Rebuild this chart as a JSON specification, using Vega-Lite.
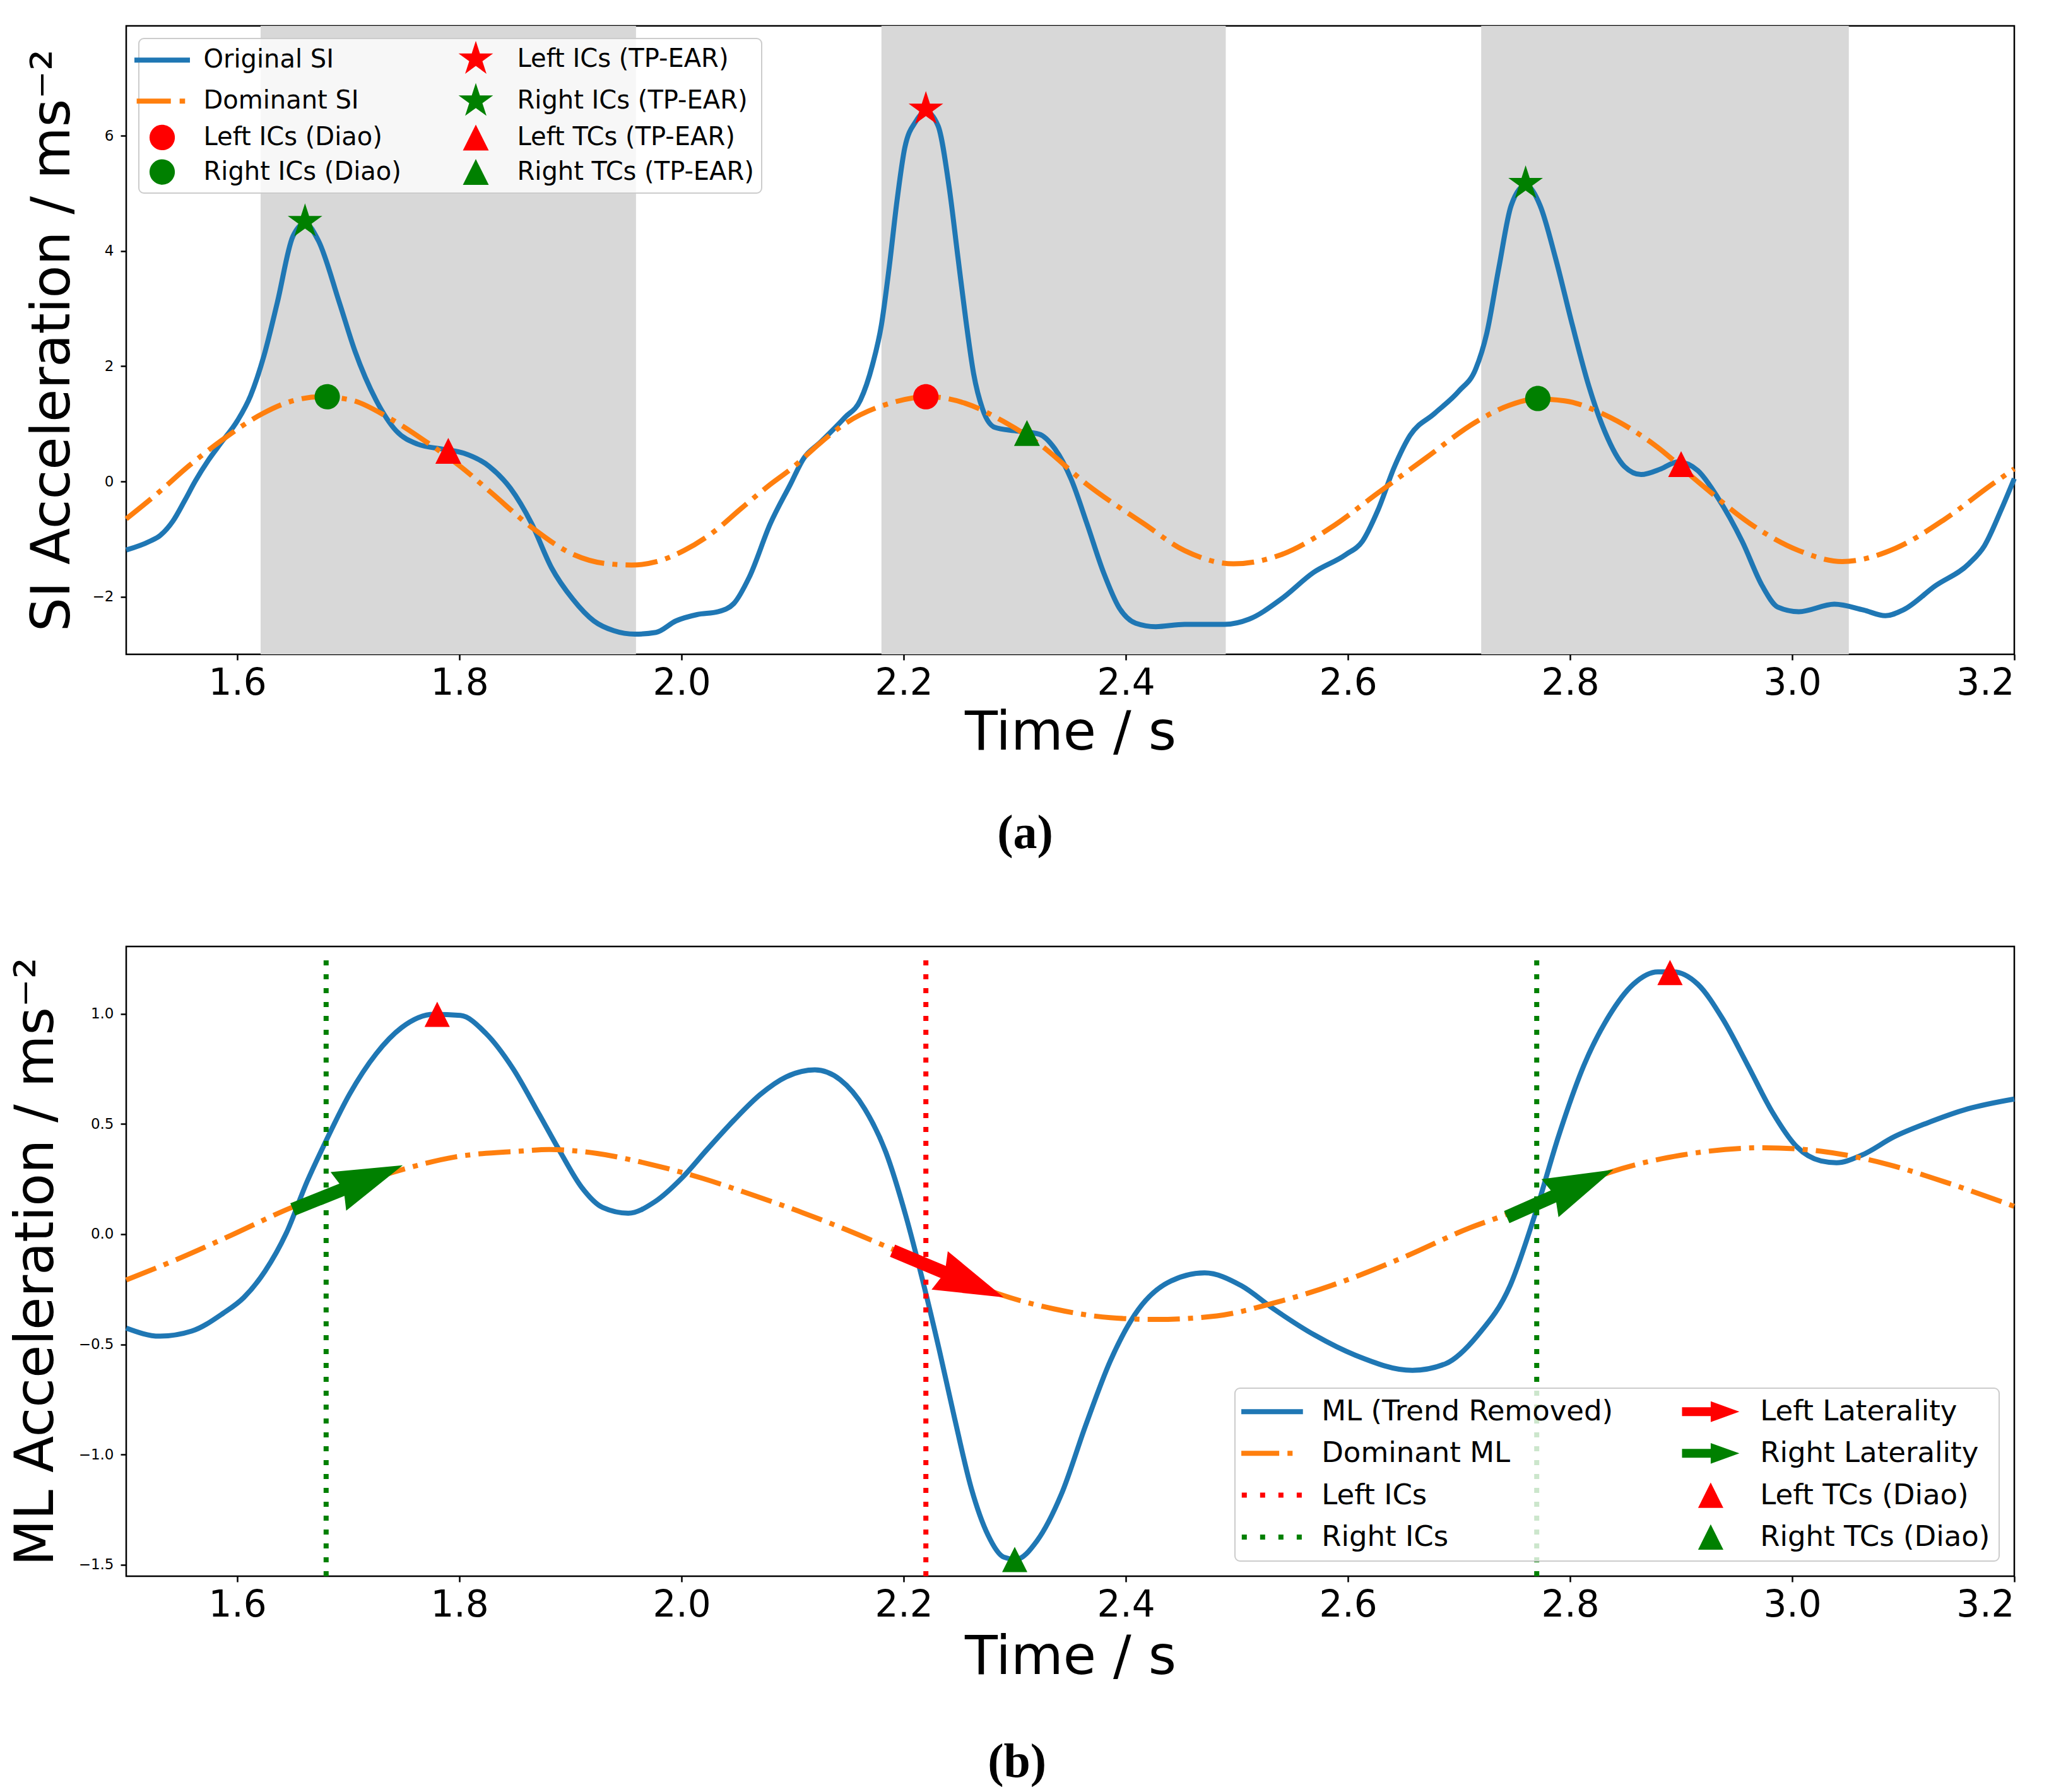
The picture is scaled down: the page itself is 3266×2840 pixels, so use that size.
{
  "$schema": "https://vega.github.io/schema/vega-lite/v6.json",
  "background": "white",
  "padding": {"left": 13, "top": 39, "right": 20, "bottom": 5},
  "datasets": {
    "si": [
      {"t":1.500,"v":-1.19},{"t":1.521,"v":-1.04},{"t":1.531,"v":-0.93},{"t":1.542,"v":-0.69},{"t":1.553,"v":-0.32},{"t":1.562,"v":0.0},{"t":1.574,"v":0.37},{"t":1.585,"v":0.66},{"t":1.600,"v":1.05},{"t":1.612,"v":1.49},{"t":1.624,"v":2.18},{"t":1.636,"v":3.10},{"t":1.650,"v":4.25},{"t":1.661,"v":4.48},{"t":1.673,"v":4.18},{"t":1.692,"v":3.10},{"t":1.706,"v":2.26},{"t":1.725,"v":1.41},{"t":1.743,"v":0.88},{"t":1.762,"v":0.65},{"t":1.785,"v":0.56},{"t":1.804,"v":0.49},{"t":1.827,"v":0.26},{"t":1.846,"v":-0.12},{"t":1.865,"v":-0.73},{"t":1.883,"v":-1.50},{"t":1.902,"v":-2.04},{"t":1.921,"v":-2.42},{"t":1.939,"v":-2.59},{"t":1.958,"v":-2.65},{"t":1.977,"v":-2.62},{"t":1.995,"v":-2.42},{"t":2.014,"v":-2.31},{"t":2.033,"v":-2.26},{"t":2.047,"v":-2.12},{"t":2.061,"v":-1.66},{"t":2.080,"v":-0.73},{"t":2.098,"v":-0.05},{"t":2.110,"v":0.40},{"t":2.125,"v":0.68},{"t":2.147,"v":1.11},{"t":2.161,"v":1.41},{"t":2.172,"v":2.03},{"t":2.180,"v":2.72},{"t":2.187,"v":3.72},{"t":2.194,"v":4.87},{"t":2.201,"v":5.79},{"t":2.211,"v":6.25},{"t":2.220,"v":6.42},{"t":2.231,"v":6.17},{"t":2.241,"v":5.10},{"t":2.249,"v":3.87},{"t":2.256,"v":2.80},{"t":2.263,"v":1.87},{"t":2.271,"v":1.26},{"t":2.282,"v":0.94},{"t":2.300,"v":0.88},{"t":2.322,"v":0.82},{"t":2.336,"v":0.57},{"t":2.351,"v":0.03},{"t":2.365,"v":-0.73},{"t":2.380,"v":-1.58},{"t":2.394,"v":-2.19},{"t":2.409,"v":-2.46},{"t":2.427,"v":-2.52},{"t":2.453,"v":-2.48},{"t":2.489,"v":-2.48},{"t":2.511,"v":-2.39},{"t":2.540,"v":-2.04},{"t":2.569,"v":-1.58},{"t":2.598,"v":-1.27},{"t":2.613,"v":-1.04},{"t":2.627,"v":-0.50},{"t":2.642,"v":0.26},{"t":2.656,"v":0.80},{"t":2.678,"v":1.18},{"t":2.700,"v":1.57},{"t":2.715,"v":1.95},{"t":2.725,"v":2.57},{"t":2.736,"v":3.72},{"t":2.747,"v":4.79},{"t":2.760,"v":5.14},{"t":2.773,"v":4.79},{"t":2.787,"v":3.87},{"t":2.802,"v":2.72},{"t":2.817,"v":1.65},{"t":2.831,"v":0.88},{"t":2.849,"v":0.26},{"t":2.864,"v":0.12},{"t":2.882,"v":0.22},{"t":2.897,"v":0.34},{"t":2.915,"v":0.19},{"t":2.933,"v":-0.28},{"t":2.955,"v":-1.04},{"t":2.973,"v":-1.81},{"t":2.987,"v":-2.18},{"t":3.006,"v":-2.26},{"t":3.038,"v":-2.13},{"t":3.064,"v":-2.23},{"t":3.084,"v":-2.33},{"t":3.100,"v":-2.23},{"t":3.129,"v":-1.81},{"t":3.159,"v":-1.43},{"t":3.173,"v":-1.12},{"t":3.188,"v":-0.50},{"t":3.200,"v":0.05}
    ],
    "domsi": [
      {"t":1.500,"v":-0.65},{"t":1.528,"v":-0.21},{"t":1.557,"v":0.28},{"t":1.585,"v":0.70},{"t":1.623,"v":1.18},{"t":1.650,"v":1.40},{"t":1.675,"v":1.47},{"t":1.703,"v":1.41},{"t":1.736,"v":1.11},{"t":1.773,"v":0.65},{"t":1.801,"v":0.26},{"t":1.829,"v":-0.20},{"t":1.866,"v":-0.81},{"t":1.903,"v":-1.27},{"t":1.930,"v":-1.42},{"t":1.955,"v":-1.45},{"t":1.978,"v":-1.39},{"t":2.002,"v":-1.20},{"t":2.030,"v":-0.86},{"t":2.053,"v":-0.48},{"t":2.078,"v":-0.08},{"t":2.100,"v":0.24},{"t":2.125,"v":0.67},{"t":2.147,"v":1.00},{"t":2.190,"v":1.37},{"t":2.222,"v":1.47},{"t":2.255,"v":1.36},{"t":2.290,"v":1.04},{"t":2.322,"v":0.65},{"t":2.365,"v":-0.05},{"t":2.416,"v":-0.73},{"t":2.453,"v":-1.20},{"t":2.497,"v":-1.43},{"t":2.540,"v":-1.27},{"t":2.584,"v":-0.81},{"t":2.627,"v":-0.20},{"t":2.671,"v":0.42},{"t":2.715,"v":1.03},{"t":2.745,"v":1.32},{"t":2.770,"v":1.43},{"t":2.795,"v":1.40},{"t":2.831,"v":1.16},{"t":2.875,"v":0.65},{"t":2.918,"v":-0.05},{"t":2.962,"v":-0.73},{"t":3.006,"v":-1.20},{"t":3.045,"v":-1.39},{"t":3.093,"v":-1.16},{"t":3.137,"v":-0.66},{"t":3.180,"v":-0.05},{"t":3.200,"v":0.22}
    ],
    "shade": [{"t":1.621,"t2":1.959},{"t":2.180,"t2":2.490},{"t":2.720,"t2":3.051}],
    "mtop": [
      {"t":1.661,"v":4.51,"s":"Right ICs (TP-EAR)"},{"t":2.760,"v":5.17,"s":"Right ICs (TP-EAR)"},{"t":2.220,"v":6.46,"s":"Left ICs (TP-EAR)"},{"t":1.681,"v":1.47,"s":"Right ICs (Diao)"},{"t":2.771,"v":1.44,"s":"Right ICs (Diao)"},{"t":2.220,"v":1.47,"s":"Left ICs (Diao)"},{"t":1.790,"v":0.53,"s":"Left TCs (TP-EAR)"},{"t":2.900,"v":0.30,"s":"Left TCs (TP-EAR)"},{"t":2.311,"v":0.84,"s":"Right TCs (TP-EAR)"}
    ],
    "ml": [
      {"t":1.500,"v":-0.426},{"t":1.530,"v":-0.463},{"t":1.559,"v":-0.44},{"t":1.587,"v":-0.36},{"t":1.606,"v":-0.287},{"t":1.625,"v":-0.168},{"t":1.644,"v":0.003},{"t":1.663,"v":0.24},{"t":1.680,"v":0.424},{"t":1.701,"v":0.634},{"t":1.725,"v":0.818},{"t":1.748,"v":0.937},{"t":1.777,"v":0.997},{"t":1.801,"v":0.992},{"t":1.824,"v":0.91},{"t":1.848,"v":0.753},{"t":1.872,"v":0.542},{"t":1.891,"v":0.371},{"t":1.910,"v":0.213},{"t":1.929,"v":0.121},{"t":1.952,"v":0.095},{"t":1.976,"v":0.147},{"t":2.000,"v":0.253},{"t":2.023,"v":0.384},{"t":2.047,"v":0.516},{"t":2.071,"v":0.634},{"t":2.094,"v":0.713},{"t":2.120,"v":0.745},{"t":2.143,"v":0.70},{"t":2.165,"v":0.568},{"t":2.184,"v":0.371},{"t":2.202,"v":0.082},{"t":2.217,"v":-0.208},{"t":2.232,"v":-0.524},{"t":2.246,"v":-0.839},{"t":2.261,"v":-1.155},{"t":2.276,"v":-1.366},{"t":2.290,"v":-1.465},{"t":2.301,"v":-1.476},{"t":2.320,"v":-1.392},{"t":2.342,"v":-1.18},{"t":2.364,"v":-0.866},{"t":2.386,"v":-0.576},{"t":2.408,"v":-0.366},{"t":2.4375,"v":-0.221},{"t":2.471,"v":-0.176},{"t":2.504,"v":-0.234},{"t":2.533,"v":-0.339},{"t":2.570,"v":-0.458},{"t":2.607,"v":-0.55},{"t":2.658,"v":-0.618},{"t":2.6875,"v":-0.589},{"t":2.717,"v":-0.458},{"t":2.746,"v":-0.234},{"t":2.768,"v":0.082},{"t":2.790,"v":0.45},{"t":2.8125,"v":0.766},{"t":2.835,"v":0.989},{"t":2.857,"v":1.134},{"t":2.879,"v":1.19},{"t":2.893,"v":1.19},{"t":2.915,"v":1.134},{"t":2.9375,"v":0.976},{"t":2.960,"v":0.766},{"t":2.982,"v":0.555},{"t":3.004,"v":0.397},{"t":3.026,"v":0.332},{"t":3.040,"v":0.324},{"t":3.0625,"v":0.358},{"t":3.092,"v":0.442},{"t":3.121,"v":0.503},{"t":3.158,"v":0.568},{"t":3.200,"v":0.613}
    ],
    "domml": [
      {"t":1.500,"v":-0.208},{"t":1.545,"v":-0.116},{"t":1.592,"v":-0.011},{"t":1.649,"v":0.121},{"t":1.700,"v":0.215},{"t":1.748,"v":0.292},{"t":1.796,"v":0.35},{"t":1.853,"v":0.376},{"t":1.881,"v":0.384},{"t":1.924,"v":0.366},{"t":1.971,"v":0.318},{"t":2.019,"v":0.253},{"t":2.066,"v":0.174},{"t":2.094,"v":0.125},{"t":2.136,"v":0.045},{"t":2.1875,"v":-0.063},{"t":2.239,"v":-0.176},{"t":2.287,"v":-0.274},{"t":2.335,"v":-0.339},{"t":2.386,"v":-0.379},{"t":2.427,"v":-0.387},{"t":2.482,"v":-0.371},{"t":2.533,"v":-0.313},{"t":2.592,"v":-0.221},{"t":2.651,"v":-0.103},{"t":2.710,"v":0.029},{"t":2.739,"v":0.082},{"t":2.790,"v":0.185},{"t":2.835,"v":0.279},{"t":2.900,"v":0.358},{"t":2.974,"v":0.392},{"t":3.026,"v":0.376},{"t":3.085,"v":0.318},{"t":3.136,"v":0.239},{"t":3.200,"v":0.126}
    ],
    "ics": [
      {"t":1.680,"v":-1.552,"v2":1.266,"s":"Right ICs"},{"t":2.220,"v":-1.552,"v2":1.266,"s":"Left ICs"},{"t":2.770,"v":-1.552,"v2":1.266,"s":"Right ICs"}
    ],
    "shafts": [
      {"s":"Right Laterality","t":1.650,"v":0.112,"t2":1.6975,"v2":0.208},
      {"s":"Left Laterality","t":2.190,"v":-0.075,"t2":2.238,"v2":-0.177},
      {"s":"Right Laterality","t":2.743,"v":0.077,"t2":2.789,"v2":0.180}
    ],
    "heads": [
      {"s":"Right Laterality","t":1.749,"v":0.312,"id":1},
      {"s":"Left Laterality","t":2.290,"v":-0.287,"id":2},
      {"s":"Right Laterality","t":2.839,"v":0.292,"id":3}
    ],
    "mbot": [
      {"t":1.780,"v":0.997,"s":"Left TCs (Diao)"},{"t":2.890,"v":1.187,"s":"Left TCs (Diao)"},{"t":2.300,"v":-1.476,"s":"Right TCs (Diao)"}
    ]
  },
  "vconcat": [
    {
      "width": 2992,
      "height": 996,
      "title": {"text": "(a)", "orient": "bottom", "anchor": "middle", "frame": "bounds", "baseline": "top", "font": "Liberation Serif", "fontWeight": "bold", "fontSize": 76, "color": "black", "offset": 80},
      "layer": [
        {
          "data": {"name": "shade"},
          "mark": {"type": "rect", "color": "#d8d8d8"},
          "encoding": {
            "x": {"field": "t", "type": "quantitative", "title": "Time / s", "scale": {"domain": [1.5, 3.2], "nice": false, "zero": false}},
            "x2": {"field": "t2"}
          }
        },
        {
          "data": {"name": "si"},
          "mark": {"type": "line", "strokeWidth": 8, "interpolate": "monotone", "strokeJoin": "round", "color": "#1f77b4"},
          "encoding": {
            "x": {"field": "t", "type": "quantitative", "title": "Time / s", "scale": {"domain": [1.5, 3.2], "nice": false, "zero": false},
                  "axis": {"values": [1.6, 1.8, 2.0, 2.2, 2.4, 2.6, 2.8, 3.0, 3.2], "format": ".1f", "labelPadding": 8, "titlePadding": 8}},
            "y": {"field": "v", "type": "quantitative", "title": "SI Acceleration / ms⁻²", "scale": {"domain": [-3.0, 7.906], "nice": false, "zero": false},
                  "axis": {"values": [-2, 0, 2, 4, 6], "format": "d", "titlePadding": 19}}
          }
        },
        {
          "data": {"name": "domsi"},
          "mark": {"type": "line", "strokeWidth": 8, "interpolate": "monotone", "strokeDash": [51, 13, 8, 13], "color": "#ff7f0e"},
          "encoding": {
            "x": {"field": "t", "type": "quantitative", "title": "Time / s", "scale": {"domain": [1.5, 3.2], "nice": false, "zero": false}},
            "y": {"field": "v", "type": "quantitative", "title": "SI Acceleration / ms⁻²", "scale": {"domain": [-3.0, 7.906], "nice": false, "zero": false}}
          }
        },
        {
          "data": {"name": "mtop"},
          "mark": {"type": "point", "filled": true, "opacity": 1, "size": 1681, "strokeWidth": 0},
          "encoding": {
            "x": {"field": "t", "type": "quantitative", "title": "Time / s", "scale": {"domain": [1.5, 3.2], "nice": false, "zero": false}},
            "y": {"field": "v", "type": "quantitative", "title": "SI Acceleration / ms⁻²", "scale": {"domain": [-3.0, 7.906], "nice": false, "zero": false}},
            "color": {"field": "s", "type": "nominal",
                      "scale": {"domain": ["Original SI", "Dominant SI", "Left ICs (Diao)", "Right ICs (Diao)", "Left ICs (TP-EAR)", "Right ICs (TP-EAR)", "Left TCs (TP-EAR)", "Right TCs (TP-EAR)"],
                                "range": ["#1f77b4", "#ff7f0e", "#ff0000", "#008000", "#ff0000", "#008000", "#ff0000", "#008000"]},
                      "legend": {"title": null, "orient": "top-left", "offset": 20, "columns": 2, "columnPadding": 90, "rowPadding": 13.7, "symbolSize": 1681, "symbolStrokeWidth": 0, "symbolOffset": 4.5, "labelOffset": 45, "labelFontSize": 40, "labelFont": "DejaVu Sans", "labelColor": "black", "labelLimit": 2000, "padding": 12, "fillColor": "rgba(255,255,255,0.8)", "strokeColor": "#cccccc", "cornerRadius": 8, "symbolOpacity": 1}},
            "shape": {"field": "s", "type": "nominal",
                      "scale": {"domain": ["Original SI", "Dominant SI", "Left ICs (Diao)", "Right ICs (Diao)", "Left ICs (TP-EAR)", "Right ICs (TP-EAR)", "Left TCs (TP-EAR)", "Right TCs (TP-EAR)"],
                                "range": [
                                  "M-2.146,-0.195H2.146V0.195H-2.146Z",
                                  "M-1.97,-0.195H0.67V0.195H-1.97Z M1.35,-0.195H1.77V0.195H1.35Z",
                                  "M-0.98,0A0.98,0.98,0,1,0,0.98,0A0.98,0.98,0,1,0,-0.98,0Z",
                                  "M-0.98,0A0.98,0.98,0,1,0,0.98,0A0.98,0.98,0,1,0,-0.98,0Z",
                                  "M0,-1.405L0.316,-0.434L1.336,-0.434L0.511,0.166L0.826,1.137L0,0.537L-0.826,1.137L-0.511,0.166L-1.336,-0.434L-0.316,-0.434Z",
                                  "M0,-1.405L0.316,-0.434L1.336,-0.434L0.511,0.166L0.826,1.137L0,0.537L-0.826,1.137L-0.511,0.166L-1.336,-0.434L-0.316,-0.434Z",
                                  "M0,-1.0L1.0,1.0L-1.0,1.0Z",
                                  "M0,-1.0L1.0,1.0L-1.0,1.0Z"
                                ]},
                      "legend": {"title": null, "orient": "top-left", "offset": 20, "columns": 2, "columnPadding": 90, "rowPadding": 13.7, "symbolSize": 1681, "symbolStrokeWidth": 0, "symbolOffset": 4.5, "labelOffset": 45, "labelFontSize": 40, "labelFont": "DejaVu Sans", "labelColor": "black", "labelLimit": 2000, "padding": 12, "fillColor": "rgba(255,255,255,0.8)", "strokeColor": "#cccccc", "cornerRadius": 8, "symbolOpacity": 1}}
          }
        }
      ]
    },
    {
      "width": 2992,
      "height": 998,
      "title": {"text": "(b)", "orient": "bottom", "anchor": "middle", "frame": "bounds", "baseline": "top", "font": "Liberation Serif", "fontWeight": "bold", "fontSize": 76, "color": "black", "offset": 87},
      "layer": [
        {
          "data": {"name": "ml"},
          "mark": {"type": "line", "strokeWidth": 8, "interpolate": "monotone", "strokeJoin": "round", "color": "#1f77b4"},
          "encoding": {
            "x": {"field": "t", "type": "quantitative", "title": "Time / s", "scale": {"domain": [1.5, 3.2], "nice": false, "zero": false},
                  "axis": {"values": [1.6, 1.8, 2.0, 2.2, 2.4, 2.6, 2.8, 3.0, 3.2], "format": ".1f", "labelPadding": 8, "titlePadding": 12}},
            "y": {"field": "v", "type": "quantitative", "title": "ML Acceleration / ms⁻²", "scale": {"domain": [-1.552, 1.305], "nice": false, "zero": false},
                  "axis": {"values": [-1.5, -1.0, -0.5, 0.0, 0.5, 1.0], "format": ".1f", "titlePadding": 23}}
          }
        },
        {
          "data": {"name": "domml"},
          "mark": {"type": "line", "strokeWidth": 8, "interpolate": "monotone", "strokeDash": [51, 13, 8, 13], "color": "#ff7f0e"},
          "encoding": {
            "x": {"field": "t", "type": "quantitative", "title": "Time / s", "scale": {"domain": [1.5, 3.2], "nice": false, "zero": false}},
            "y": {"field": "v", "type": "quantitative", "title": "ML Acceleration / ms⁻²", "scale": {"domain": [-1.552, 1.305], "nice": false, "zero": false}}
          }
        },
        {
          "data": {"name": "ics"},
          "transform": [{"filter": "datum.s == 'Left ICs'"}],
          "mark": {"type": "rule", "strokeWidth": 8, "strokeDash": [8, 14], "strokeCap": "butt", "color": "#ff0000"},
          "encoding": {
            "x": {"field": "t", "type": "quantitative", "title": "Time / s", "scale": {"domain": [1.5, 3.2], "nice": false, "zero": false}},
            "y": {"field": "v", "type": "quantitative", "title": "ML Acceleration / ms⁻²", "scale": {"domain": [-1.552, 1.305], "nice": false, "zero": false}},
            "y2": {"field": "v2"}
          }
        },
        {
          "data": {"name": "ics"},
          "transform": [{"filter": "datum.s == 'Right ICs'"}],
          "mark": {"type": "rule", "strokeWidth": 8, "strokeDash": [8, 14], "strokeCap": "butt", "color": "#008000"},
          "encoding": {
            "x": {"field": "t", "type": "quantitative", "title": "Time / s", "scale": {"domain": [1.5, 3.2], "nice": false, "zero": false}},
            "y": {"field": "v", "type": "quantitative", "title": "ML Acceleration / ms⁻²", "scale": {"domain": [-1.552, 1.305], "nice": false, "zero": false}},
            "y2": {"field": "v2"}
          }
        },
        {
          "data": {"name": "shafts"},
          "transform": [{"filter": "datum.s == 'Left Laterality'"}],
          "mark": {"type": "rule", "strokeWidth": 21, "strokeCap": "butt", "color": "#ff0000"},
          "encoding": {
            "x": {"field": "t", "type": "quantitative", "title": "Time / s", "scale": {"domain": [1.5, 3.2], "nice": false, "zero": false}},
            "y": {"field": "v", "type": "quantitative", "title": "ML Acceleration / ms⁻²", "scale": {"domain": [-1.552, 1.305], "nice": false, "zero": false}},
            "x2": {"field": "t2"},
            "y2": {"field": "v2"}
          }
        },
        {
          "data": {"name": "shafts"},
          "transform": [{"filter": "datum.s == 'Right Laterality'"}],
          "mark": {"type": "rule", "strokeWidth": 21, "strokeCap": "butt", "color": "#008000"},
          "encoding": {
            "x": {"field": "t", "type": "quantitative", "title": "Time / s", "scale": {"domain": [1.5, 3.2], "nice": false, "zero": false}},
            "y": {"field": "v", "type": "quantitative", "title": "ML Acceleration / ms⁻²", "scale": {"domain": [-1.552, 1.305], "nice": false, "zero": false}},
            "x2": {"field": "t2"},
            "y2": {"field": "v2"}
          }
        },
        {
          "data": {"name": "heads"},
          "transform": [{"filter": "datum.id == 1"}],
          "mark": {"type": "point", "filled": true, "opacity": 1, "size": 10000, "strokeWidth": 0, "angle": -22, "color": "#008000", "shape": "M0,0L-2.2,-0.66L-2.02,0L-2.2,0.66Z"},
          "encoding": {
            "x": {"field": "t", "type": "quantitative", "title": "Time / s", "scale": {"domain": [1.5, 3.2], "nice": false, "zero": false}},
            "y": {"field": "v", "type": "quantitative", "title": "ML Acceleration / ms⁻²", "scale": {"domain": [-1.552, 1.305], "nice": false, "zero": false}}
          }
        },
        {
          "data": {"name": "heads"},
          "transform": [{"filter": "datum.id == 2"}],
          "mark": {"type": "point", "filled": true, "opacity": 1, "size": 10000, "strokeWidth": 0, "angle": 22.9, "color": "#ff0000", "shape": "M0,0L-2.2,-0.66L-2.02,0L-2.2,0.66Z"},
          "encoding": {
            "x": {"field": "t", "type": "quantitative", "title": "Time / s", "scale": {"domain": [1.5, 3.2], "nice": false, "zero": false}},
            "y": {"field": "v", "type": "quantitative", "title": "ML Acceleration / ms⁻²", "scale": {"domain": [-1.552, 1.305], "nice": false, "zero": false}}
          }
        },
        {
          "data": {"name": "heads"},
          "transform": [{"filter": "datum.id == 3"}],
          "mark": {"type": "point", "filled": true, "opacity": 1, "size": 10000, "strokeWidth": 0, "angle": -24.1, "color": "#008000", "shape": "M0,0L-2.2,-0.66L-2.02,0L-2.2,0.66Z"},
          "encoding": {
            "x": {"field": "t", "type": "quantitative", "title": "Time / s", "scale": {"domain": [1.5, 3.2], "nice": false, "zero": false}},
            "y": {"field": "v", "type": "quantitative", "title": "ML Acceleration / ms⁻²", "scale": {"domain": [-1.552, 1.305], "nice": false, "zero": false}}
          }
        },
        {
          "data": {"name": "mbot"},
          "mark": {"type": "point", "filled": true, "opacity": 1, "size": 2025, "strokeWidth": 0},
          "encoding": {
            "x": {"field": "t", "type": "quantitative", "title": "Time / s", "scale": {"domain": [1.5, 3.2], "nice": false, "zero": false}},
            "y": {"field": "v", "type": "quantitative", "title": "ML Acceleration / ms⁻²", "scale": {"domain": [-1.552, 1.305], "nice": false, "zero": false}},
            "color": {"field": "s", "type": "nominal",
                      "scale": {"domain": ["ML (Trend Removed)", "Dominant ML", "Left ICs", "Right ICs", "Left Laterality", "Right Laterality", "Left TCs (Diao)", "Right TCs (Diao)"],
                                "range": ["#1f77b4", "#ff7f0e", "#ff0000", "#008000", "#ff0000", "#008000", "#ff0000", "#008000"]},
                      "legend": {"title": null, "orient": "bottom-right", "offset": 24, "columns": 2, "columnPadding": 108, "rowPadding": 20.3, "symbolSize": 2025, "symbolStrokeWidth": 0, "symbolOffset": 21.9, "labelOffset": 55.8, "labelFontSize": 45, "labelFont": "DejaVu Sans", "labelColor": "black", "labelLimit": 2000, "padding": 14.5, "fillColor": "rgba(255,255,255,0.8)", "strokeColor": "#cccccc", "cornerRadius": 8, "symbolOpacity": 1}},
            "shape": {"field": "s", "type": "nominal",
                      "scale": {"domain": ["ML (Trend Removed)", "Dominant ML", "Left ICs", "Right ICs", "Left Laterality", "Right Laterality", "Left TCs (Diao)", "Right TCs (Diao)"],
                                "range": [
                                  "M-2.17,-0.178H2.17V0.178H-2.17Z",
                                  "M-2.17,-0.178H0.5V0.178H-2.17Z M1.08,-0.178H1.44V0.178H1.08Z",
                                  "M-2.138,-0.178h0.356v0.356h-0.356Z M-0.848,-0.178h0.356v0.356h-0.356Z M0.442,-0.178h0.356v0.356h-0.356Z M1.732,-0.178h0.356v0.356h-0.356Z",
                                  "M-2.138,-0.178h0.356v0.356h-0.356Z M-0.848,-0.178h0.356v0.356h-0.356Z M0.442,-0.178h0.356v0.356h-0.356Z M1.732,-0.178h0.356v0.356h-0.356Z",
                                  "M-2.02,-0.31H0V-0.73L2.02,0L0,0.73V0.31H-2.02Z",
                                  "M-2.02,-0.31H0V-0.73L2.02,0L0,0.73V0.31H-2.02Z",
                                  "M0,-0.89L0.89,0.89L-0.89,0.89Z",
                                  "M0,-0.89L0.89,0.89L-0.89,0.89Z"
                                ]},
                      "legend": {"title": null, "orient": "bottom-right", "offset": 24, "columns": 2, "columnPadding": 108, "rowPadding": 20.3, "symbolSize": 2025, "symbolStrokeWidth": 0, "symbolOffset": 21.9, "labelOffset": 55.8, "labelFontSize": 45, "labelFont": "DejaVu Sans", "labelColor": "black", "labelLimit": 2000, "padding": 14.5, "fillColor": "rgba(255,255,255,0.8)", "strokeColor": "#cccccc", "cornerRadius": 8, "symbolOpacity": 1}}
          }
        }
      ]
    }
  ],
  "spacing": 137,
  "resolve": {
    "scale": {"color": "independent", "shape": "independent"},
    "legend": {"color": "independent", "shape": "independent"}
  },
  "config": {
    "font": "DejaVu Sans",
    "view": {"stroke": "black", "strokeWidth": 2.5},
    "axis": {"domain": false, "grid": false, "ticks": true, "tickColor": "black", "tickWidth": 2.5, "tickSize": 9, "labelColor": "black", "titleColor": "black", "labelFont": "DejaVu Sans", "titleFont": "DejaVu Sans", "titleFontWeight": "normal"},
    "axisX": {"labelFontSize": 58, "titleFontSize": 85},
    "axisY": {"labelFontSize": 23, "titleFontSize": 85, "labelPadding": 11},
    "legend": {"strokeWidth": 2}
  }
}
